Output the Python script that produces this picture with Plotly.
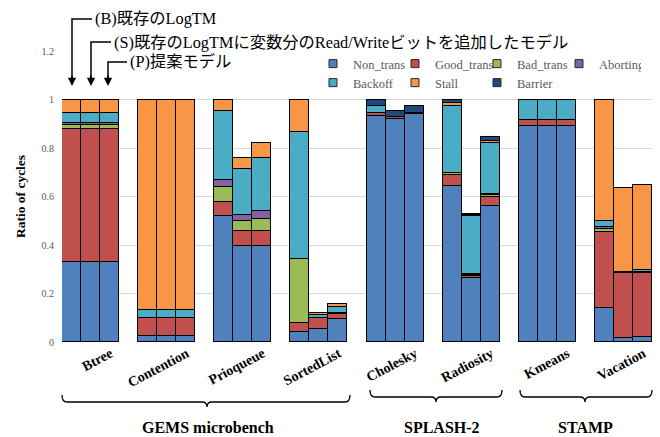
import plotly.graph_objects as go

# ---------------- data ----------------
categories = ["Btree", "Contention", "Prioqueue", "SortedList",
              "Cholesky", "Radiosity", "Kmeans", "Vacation"]
variants = ["B", "S", "P"]
suites = ["GEMS microbench", "SPLASH-2", "STAMP"]

series_names = ["Non_trans", "Good_trans", "Bad_trans", "Aborting",
                "Backoff", "Stall", "Barrier"]

non_trans = [0.330, 0.330, 0.330, 0.023, 0.023, 0.023, 0.520, 0.396, 0.396,
             0.041, 0.054, 0.096, 0.934, 0.918, 0.942, 0.645, 0.263, 0.560,
             0.890, 0.890, 0.890, 0.140, 0.016, 0.021]
good_trans = [0.550, 0.550, 0.550, 0.074, 0.074, 0.074, 0.058, 0.061, 0.061,
              0.036, 0.043, 0.019, 0.010, 0.008, 0.002, 0.042, 0.010, 0.037,
              0.025, 0.025, 0.025, 0.314, 0.267, 0.264]
bad_trans = [0.015, 0.015, 0.015, 0.003, 0.003, 0.003, 0.061, 0.042, 0.051,
             0.265, 0.003, 0.004, 0.000, 0.000, 0.000, 0.008, 0.003, 0.008,
             0.000, 0.000, 0.000, 0.011, 0.002, 0.002]
aborting = [0.007, 0.007, 0.007, 0.000, 0.000, 0.000, 0.029, 0.025, 0.031,
            0.000, 0.000, 0.000, 0.000, 0.000, 0.000, 0.003, 0.003, 0.004,
            0.000, 0.000, 0.000, 0.008, 0.000, 0.000]
backoff = [0.043, 0.043, 0.043, 0.033, 0.033, 0.033, 0.284, 0.189, 0.218,
           0.525, 0.012, 0.025, 0.029, 0.002, 0.000, 0.275, 0.242, 0.210,
           0.082, 0.082, 0.082, 0.026, 0.002, 0.011]
stall = [0.055, 0.055, 0.055, 0.867, 0.867, 0.867, 0.048, 0.046, 0.063,
         0.133, 0.008, 0.011, 0.000, 0.000, 0.000, 0.011, 0.002, 0.011,
         0.000, 0.000, 0.000, 0.501, 0.347, 0.348]
barrier = [0.000, 0.000, 0.000, 0.000, 0.000, 0.000, 0.000, 0.000, 0.000,
           0.000, 0.000, 0.000, 0.027, 0.023, 0.031, 0.016, 0.005, 0.014,
           0.003, 0.003, 0.003, 0.000, 0.000, 0.000]

annot_texts = ["(B)既存のLogTM",
               "(S)既存のLogTMに変数分のRead/Writeビットを追加したモデル",
               "(P)提案モデル"]

# ---------------- styles ----------------
colors = ["#4F81BD", "#C0504D", "#9BBB59", "#8064A2",
          "#4BACC6", "#F79646", "#1F497D"]
SERIF = "Liberation Serif, Times New Roman, serif"
JP = "Liberation Serif, Noto Sans CJK JP, serif"

W, H = 660, 437
ML, MR, MT, MB = 62, 8, 51, 95
PW, PH = W - ML - MR, H - MT - MB


def px(x):
    return (x - ML) / PW


def py(y):
    return (H - MB - y) / PH


# bar positions: 3 bars per group, 1 empty slot between groups
xpos = [4 * g + j for g in range(len(categories)) for j in range(len(variants))]
all_series = [non_trans, good_trans, bad_trans, aborting, backoff, stall, barrier]

fig = go.Figure()
for i, (name, vals) in enumerate(zip(series_names, all_series)):
    fig.add_trace(go.Bar(
        x=xpos, y=vals, name=name, width=1, showlegend=False,
        legendgroup=name,
        marker=dict(color=colors[i], line=dict(color="black", width=1.3)),
    ))
# legend entries (small framed squares like the original)
for i, name in enumerate(series_names):
    fig.add_trace(go.Scatter(
        x=[None], y=[None], mode="markers", name=name, legendgroup=name,
        marker=dict(symbol="square", size=8, color=colors[i],
                    line=dict(color="#262626", width=1)),
        legend="legend" if i < 4 else "legend2",
    ))

fig.update_layout(
    width=W, height=H,
    margin=dict(l=ML, r=MR, t=MT, b=MB),
    barmode="stack", bargap=0,
    plot_bgcolor="white", paper_bgcolor="white",
    font=dict(family=SERIF),
    legend=dict(orientation="h", x=px(313), y=py(64), xanchor="left",
                yanchor="middle", entrywidth=37, traceorder="normal",
                font=dict(family=SERIF, size=12.5, color="#595959"),
                bgcolor="rgba(0,0,0,0)"),
    legend2=dict(orientation="h", x=px(313), y=py(83), xanchor="left",
                 yanchor="middle", entrywidth=37, traceorder="normal",
                 font=dict(family=SERIF, size=12.5, color="#595959"),
                 bgcolor="rgba(0,0,0,0)"),
)

fig.update_xaxes(
    range=[-0.5, 4 * len(categories) - 1.5],
    tickmode="array",
    tickvals=[4 * g + 1 for g in range(len(categories))],
    ticktext=categories,
    tickangle=-28,
    tickfont=dict(family=SERIF, size=14, color="black", weight="bold"),
    ticklabelshift=20,
    showgrid=False, zeroline=False, showline=False, ticks="",
)
fig.update_yaxes(
    range=[0, 1.2], dtick=0.2, tick0=0,
    tickfont=dict(family=SERIF, size=10, color="#595959"),
    gridcolor="#D9D9D9", gridwidth=1,
    zeroline=False, showline=False, ticks="",
    ticklabelstandoff=7,
    title=dict(text="Ratio of cycles",
               font=dict(family=SERIF, size=13.5, color="black", weight="bold"),
               standoff=12),
)

shapes = []
annotations = []

# elbow arrows with labels (B), (S), (P)
arrow_specs = [  # (vertical x, top y, text x)
    (72, 19, 92),
    (91, 42, 111),
    (108, 62, 127),
]
tip_y = 86
for (vx, ty, tx), txt in zip(arrow_specs, annot_texts):
    shapes.append(dict(type="path", xref="paper", yref="paper",
                       path=f"M {px(tx)},{py(ty)} L {px(vx)},{py(ty)} L {px(vx)},{py(tip_y - 4)}",
                       line=dict(color="black", width=1.5)))
    annotations.append(dict(xref="paper", yref="paper", x=px(vx), y=py(tip_y),
                            ax=0, ay=-12,
                            text="", showarrow=True, arrowhead=2, arrowsize=1.1,
                            arrowwidth=1.5, arrowcolor="black", standoff=0))
    annotations.append(dict(xref="paper", yref="paper", x=px(tx + 1), y=py(ty),
                            xanchor="left", yanchor="middle", text=txt,
                            showarrow=False,
                            font=dict(family=JP, size=16.3, color="black")))

# braces under groups
brace_specs = [  # x0, x1, tip x, top y, line y, tip y
    (62, 350, 207, 395, 402, 407),
    (370, 502, 436, 390, 397, 402),
    (520, 652, 585, 390, 397, 402),
]
for x0, x1, xt, yt, yl, ytip in brace_specs:
    r = 5
    p = (f"M {px(x0)},{py(yt)} Q {px(x0)},{py(yl)} {px(x0 + r)},{py(yl)} "
         f"L {px(xt - r)},{py(yl)} Q {px(xt)},{py(yl)} {px(xt)},{py(ytip)} "
         f"Q {px(xt)},{py(yl)} {px(xt + r)},{py(yl)} "
         f"L {px(x1 - r)},{py(yl)} Q {px(x1)},{py(yl)} {px(x1)},{py(yt)}")
    shapes.append(dict(type="path", xref="paper", yref="paper", path=p,
                       line=dict(color="black", width=1.3)))

suite_centers = [(208, 427), (442, 427), (585, 427)]
for name, (cx, cy) in zip(suites, suite_centers):
    annotations.append(dict(xref="paper", yref="paper", x=px(cx), y=py(cy),
                            xanchor="center", yanchor="middle", text=name,
                            showarrow=False,
                            font=dict(family=SERIF, size=16, color="black",
                                      weight="bold")))

fig.update_layout(shapes=shapes, annotations=annotations)

fig.write_html(
    "out.html",
    config={"displayModeBar": False},
    post_script="document.body.style.margin='0px';document.body.style.padding='0px';document.body.style.overflow='hidden';",
)
